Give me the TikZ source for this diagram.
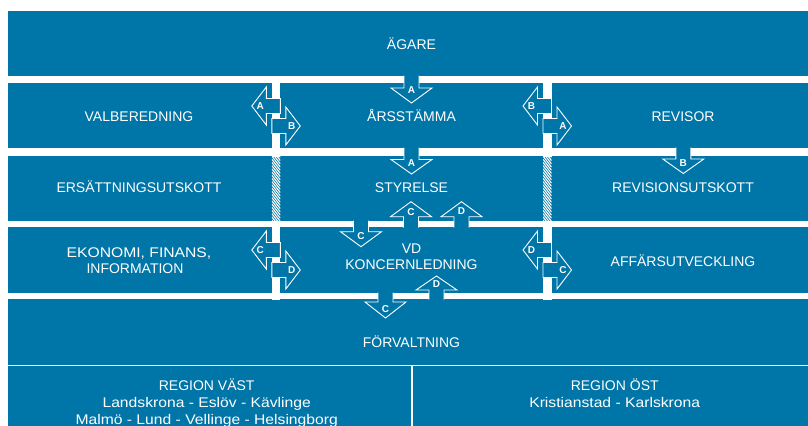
\documentclass[tikz,border=0pt]{standalone}
\usepackage{fontspec}
\setmainfont{Liberation Sans}
\newfontfamily\widefont[FakeStretch=1.12]{Liberation Sans}
\definecolor{bl}{RGB}{0,117,168}
\newcommand\DArr[7]{% xc, ystart, ybase, ytip, letter y, letter, name
  \filldraw[arr] (#1-7.5,#2) -- (#1-7.5,#3) -- (#1-20.5,#3) -- (#1,#4) -- (#1+20.5,#3) -- (#1+7.5,#3) -- (#1+7.5,#2);
  \node[let] (#7) at (#1,#5) {#6};}
\newcommand\HPair[7]{% L, R, rowtop, left letter, right letter, names
  \filldraw[arr] (#2,#3+15.5) -- (#1-5.5,#3+15.5) -- (#1-5.5,#3+4) -- (#1-20,#3+23) -- (#1-5.5,#3+42) -- (#1-5.5,#3+30.5) -- (#2,#3+30.5) -- cycle;
  \filldraw[arr] (#1,#3+35.5) -- (#2+5.5,#3+35.5) -- (#2+5.5,#3+24) -- (#2+20,#3+43) -- (#2+5.5,#3+62) -- (#2+5.5,#3+50.5) -- (#1,#3+50.5) -- cycle;
  \node[let] (#6) at (#1-11.5,#3+23) {#4};
  \node[let] (#7) at (#2+11.5,#3+43) {#5};}
\newcommand\VBar[2]{% L, R
  \fill[white] (#1,75.5) rectangle (#2,156.5);
  \fill[white] (#1,220.5) rectangle (#2,299.5);
  \begin{scope}
    \clip (#1,156) rectangle (#2,221);
    \foreach \k in {-5,...,22} \draw[white,line width=1.1bp] (#1,156+\k*3.2) -- (#2,156+\k*3.2+11);
  \end{scope}}
\begin{document}
\begin{tikzpicture}[x=1bp,y=-1bp,
  band/.style={fill=bl,draw=none,inner sep=0pt,outer sep=0pt,anchor=north west},
  lbl/.style={text=white,font=\fontsize{14bp}{16.5bp}\selectfont,inner sep=0pt,anchor=base},
  wlbl/.style={lbl,font=\widefont\fontsize{14bp}{16.5bp}\selectfont},
  arr/.style={fill=bl,draw=white,line width=0.9bp,line join=miter},
  let/.style={text=white,font=\bfseries\fontsize{10bp}{10bp}\selectfont,inner sep=0pt}]
\useasboundingbox (0,0) rectangle (808,425);
% bands
\node[band,minimum width=800bp,minimum height=65bp] (r1) at (8,11) {};
\node[band,minimum width=800bp,minimum height=65bp] (r2) at (8,83) {};
\node[band,minimum width=800bp,minimum height=65bp] (r3) at (8,156) {};
\node[band,minimum width=800bp,minimum height=66bp] (r4) at (8,227) {};
\node[band,minimum width=800bp,minimum height=65.5bp] (r5) at (8,299) {};
\node[band,minimum width=403bp,minimum height=70bp] (r6a) at (8,366) {};
\node[band,minimum width=395bp,minimum height=70bp] (r6b) at (413,366) {};
% vertical links
\VBar{271.8}{280.3}
\VBar{543}{551.5}
\HPair{271.8}{280.3}{83}{A}{B}{pa1}{pb1}
\HPair{543}{551.5}{83}{B}{A}{pb2}{pa2}
\HPair{271.8}{280.3}{227}{C}{D}{pc1}{pd1}
\HPair{543}{551.5}{227}{D}{C}{pd2}{pc2}
% vertical arrows
\DArr{411.5}{75.5}{88}{103}{90.5}{A}{a1}
\DArr{411.5}{147.5}{159.5}{174}{163.5}{A}{a2}
\DArr{683.3}{147.5}{159}{173.5}{163.3}{B}{b1}
\DArr{361}{220.5}{231.7}{246.7}{236.5}{C}{c1}
\DArr{411}{227.5}{216.7}{201.7}{211.7}{C}{c2}
\DArr{461.5}{227.5}{216.7}{201.7}{211}{D}{d1}
\DArr{385.5}{292.5}{302}{318}{309}{C}{c3}
\DArr{436.5}{299.5}{290}{276}{284}{D}{d2}
% labels
\node[lbl] (agare) at (411.5,49) {ÄGARE};
\node[lbl] (valb) at (139,121) {VALBEREDNING};
\node[lbl] (arss) at (411.5,121) {ÅRSSTÄMMA};
\node[lbl] (revi) at (683,121) {REVISOR};
\node[lbl] (ersa) at (139,192) {ERSÄTTNINGSUTSKOTT};
\node[lbl] (styr) at (411.5,192) {STYRELSE};
\node[lbl] (revu) at (683,192) {REVISIONSUTSKOTT};
\node[wlbl] (ekon1) at (139,257) {EKONOMI, FINANS,};
\node[lbl] (ekon2) at (135,273) {INFORMATION};
\node[lbl] (vd1) at (411.5,253) {VD};
\node[lbl] (vd2) at (411.5,269) {KONCERNLEDNING};
\node[lbl] (affa) at (683,266) {AFFÄRSUTVECKLING};
\node[lbl] (forv) at (411.5,347) {FÖRVALTNING};
\node[lbl] (rv1) at (206.7,390.5) {REGION VÄST};
\node[wlbl] (rv2) at (206.7,407) {Landskrona - Eslöv - Kävlinge};
\node[wlbl] (rv3) at (206.7,424) {Malmö - Lund - Vellinge - Helsingborg};
\node[lbl] (ro1) at (614.7,390.5) {REGION ÖST};
\node[wlbl] (ro2) at (614.7,407) {Kristianstad - Karlskrona};
\end{tikzpicture}
\end{document}
